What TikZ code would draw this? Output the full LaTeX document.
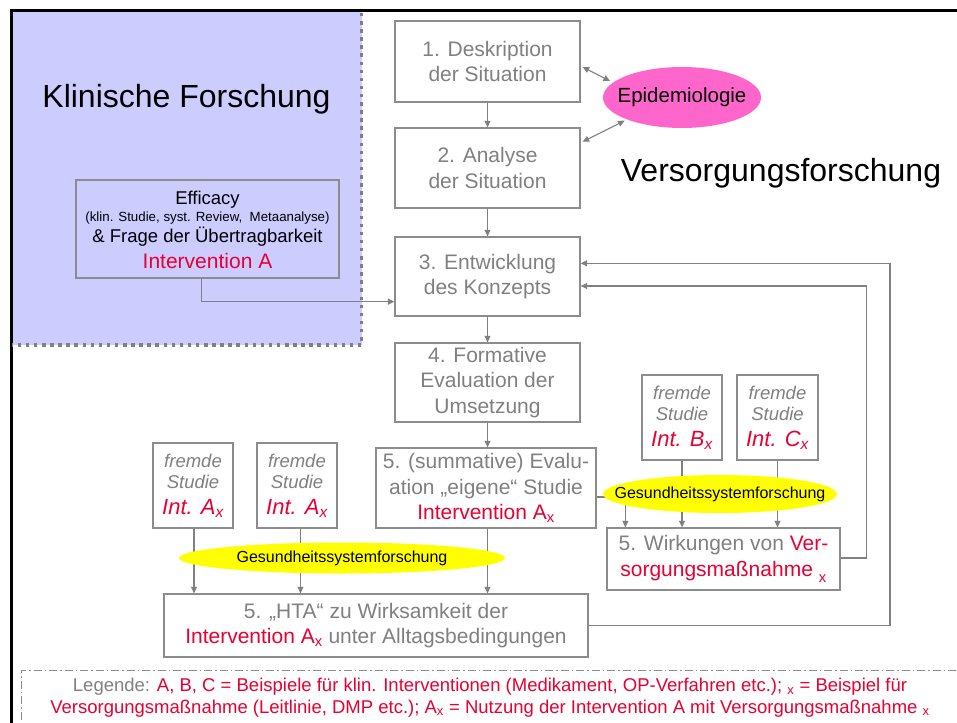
\documentclass[tikz,border=0pt]{standalone}
\usepackage{fontspec}
\setmainfont{Liberation Sans}
\usetikzlibrary{arrows.meta,calc,shapes.geometric}
\definecolor{purp}{RGB}{204,204,255}
\definecolor{boxgray}{RGB}{140,140,140}
\definecolor{txtgray}{RGB}{128,128,128}
\definecolor{arrgray}{RGB}{128,128,128}
\definecolor{redtxt}{RGB}{232,0,50}
\definecolor{epipink}{RGB}{255,102,204}
\definecolor{ylw}{RGB}{255,255,0}
\newcommand\redx[1]{\textcolor{redtxt}{#1}}
\begin{document}
\begin{tikzpicture}[x=1pt,y=-1pt,
  box/.style={draw=boxgray, line width=1.3pt, rectangle, inner sep=0pt, align=center,
    text=txtgray, font=\fontsize{21}{25.5}\selectfont},
  conn/.style={draw=arrgray, line width=1.1pt, -{Triangle[length=6.5pt,width=6pt]}},
  conntwo/.style={draw=arrgray, line width=1.1pt, {Triangle[length=6.5pt,width=6pt]}-{Triangle[length=6.5pt,width=6pt]}},
  yell/.style={ellipse, fill=ylw, inner sep=0pt},
  gtxt/.style={text=black, inner sep=0pt, font=\fontsize{16}{18}\selectfont},
  ftxt/.style={anchor=base, text=txtgray, font=\fontsize{18.5}{20}\selectfont\itshape},
  fint/.style={anchor=base, text=redtxt, font=\fontsize{22}{24}\selectfont\itshape},
  efftxt/.style={anchor=base, text=black, font=\fontsize{18.5}{20}\selectfont},
  bigtitle/.style={anchor=base, text=black, font=\fontsize{32}{36}\selectfont}]
\useasboundingbox (0,0) rectangle (957,722);
% background and frames
\fill[white] (0,0) rectangle (957,722);
\fill[purp] (12,12) rectangle (361.5,345);
\draw[black, line width=3pt] (11,730) -- (11,11) -- (965,11);
\draw[txtgray, line width=3.5pt, dash pattern=on 3.5pt off 4.6pt] (361.5,13) -- (361.5,345) -- (12,345);
\draw[boxgray, line width=0.8pt, dash pattern=on 8pt off 3pt on 1.5pt off 3pt] (21,735) -- (21,670) -- (970,670);

% titles
\node[bigtitle] (klin) at (186.5,108) {Klinische Forschung};
\node[bigtitle] (vers) at (781,182) {Versorgungsforschung};

% main column boxes
\node[box, minimum width=185pt, minimum height=81pt] (b1) at (487.5,61.5) {1. Deskription\\der Situation};
\node[box, minimum width=185pt, minimum height=80pt] (b2) at (487.5,168) {2. Analyse\\der Situation};
\node[box, minimum width=185pt, minimum height=79pt] (b3) at (487.5,276.5) {3. Entwicklung\\des Konzepts};
\node[box, minimum width=185pt, minimum height=79pt] (b4) at (487.5,382.5) {4. Formative\\Evaluation der\\Umsetzung};
\node[box, minimum width=220pt, minimum height=80pt] (b5) at (486,488) {5. (summative) Evalu-\\ation „eigene“ Studie\\\redx{Intervention A\textsubscript{x}}};
\node[box, minimum width=424pt, minimum height=63pt] (hta) at (376,625.5) {5. „HTA“ zu Wirksamkeit der\\\redx{Intervention A\textsubscript{x}} unter Alltagsbedingungen};
\node[box, minimum width=233pt, minimum height=62pt] (wk) at (723.5,559) {5. Wirkungen von \redx{Ver-}\\\redx{sorgungsmaßnahme \raisebox{-3pt}{\textsubscript{x}}}};

% Efficacy box
\node[box, minimum width=263pt, minimum height=98pt] (eff) at (207.5,229) {};
\node[efftxt] (eff1) at (207.5,204) {Efficacy};
\node[efftxt, font=\fontsize{13.3}{15}\selectfont] (eff2) at (207.5,221) {(klin. Studie, syst. Review,\ \ Metaanalyse)};
\node[efftxt] (eff3) at (207.5,242) {\& Frage der Übertragbarkeit};
\node[efftxt, text=redtxt, font=\fontsize{21}{24}\selectfont] (eff4) at (207.5,268) {Intervention A};

% fremde Studie boxes
\node[box, minimum width=80pt, minimum height=85pt] (fa1) at (193,485.5) {};
\node[ftxt] (fa1a) at (193,467) {fremde};
\node[ftxt] (fa1b) at (193,488) {Studie};
\node[fint] (fa1c) at (193,514) {Int. A\textsubscript{x}};
\node[box, minimum width=80pt, minimum height=85pt] (fa2) at (297,485.5) {};
\node[ftxt] (fa2a) at (297,467) {fremde};
\node[ftxt] (fa2b) at (297,488) {Studie};
\node[fint] (fa2c) at (297,514) {Int. A\textsubscript{x}};
\node[box, minimum width=80pt, minimum height=85pt] (fb) at (682,417.5) {};
\node[ftxt] (fba) at (682,399) {fremde};
\node[ftxt] (fbb) at (682,420) {Studie};
\node[fint] (fbc) at (682,446) {Int. B\textsubscript{x}};
\node[box, minimum width=81pt, minimum height=85pt] (fc) at (777.5,417.5) {};
\node[ftxt] (fca) at (777.5,399) {fremde};
\node[ftxt] (fcb) at (777.5,420) {Studie};
\node[fint] (fcc) at (777.5,446) {Int. C\textsubscript{x}};

% Epidemiologie
\node[ellipse, fill=epipink, inner sep=0pt, minimum width=158pt, minimum height=61pt] (epi) at (682,97.5) {};
\node[gtxt, font=\fontsize{20.5}{22}\selectfont] (epit) at (epi.center) {Epidemiologie};

% connectors
\draw[conn] (b1.south) -- (b2.north);
\draw[conn] (b2.south) -- (b3.north);
\draw[conn] (b3.south) -- (b4.north);
\draw[conn] (b4.south) -- (b4.south |- b5.north);
\draw[conn] (b4.south |- b5.south) -- (b4.south |- hta.north);
\draw[conntwo] ($(b1.east)+(2,5.5)$) -- ($(epi.center)+(-72,-16.5)$);
\draw[conntwo] ($(b2.east)+(2,-26.3)$) -- ($(epi.center)+(-57.4,23.2)$);
\draw[conn] ($(eff.south)+(-6,0)$) |- ($(b3.west)+(0,25.2)$);
\coordinate (fbo) at (890,263.3);
\coordinate (fbi) at (866.7,286);
\draw[conn] (hta.east) -| (fbo) -- ($(b3.east)+(0,-13.2)$);
\draw[conn] ($(wk.east)+(0,-1)$) -| (fbi) -- ($(b3.east)+(0,9.5)$);
\draw[conn] ($(b5.east)+(0,9)$) -| ($(wk.north west)+(19,0)$);
\draw[conn] (fb.south) -- (fb.south |- wk.north);
\draw[conn] (fc.south) -- (fc.south |- wk.north);
\draw[conn] ($(fa1.south)+(1,0)$) -- ($(fa1.south |- hta.north)+(1,0)$);
\draw[conn] ($(fa2.south)+(3.5,0)$) -- ($(fa2.south |- hta.north)+(3.5,0)$);

% Gesundheitssystemforschung ellipses
\node[yell, minimum width=234pt, minimum height=38pt] (gsr) at (720,494) {};
\node[gtxt] (gsrt) at (gsr.center) {Gesundheitssystemforschung};
\node[yell, minimum width=326pt, minimum height=31pt] (gsl) at (342,558) {};
\node[gtxt] (gslt) at (gsl.center) {Gesundheitssystemforschung};

% legend
\node[align=center, text=redtxt, font=\fontsize{18.5}{21.5}\selectfont] (leg) at (490,697.5)
  {\textcolor{txtgray}{Legende:} A, B, C = Beispiele für klin. Interventionen (Medikament, OP-Verfahren etc.); \textsubscript{x} = Beispiel für\\
   Versorgungsmaßnahme (Leitlinie, DMP etc.); A\textsubscript{x} = Nutzung der Intervention A mit Versorgungsmaßnahme \textsubscript{x}};
\end{tikzpicture}
\end{document}
